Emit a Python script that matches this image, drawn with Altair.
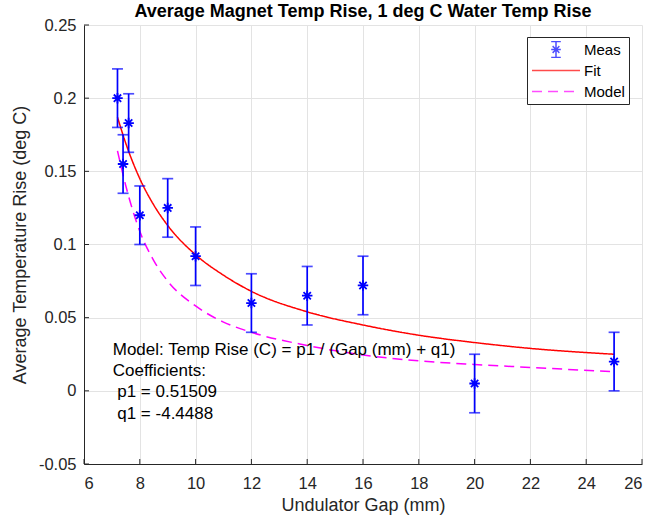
import altair as alt
import pandas as pd

# measured data
gap = [7.2, 7.4, 7.6, 8, 9, 10, 12, 14, 16, 20, 25]
rise = [0.200, 0.155, 0.183, 0.120, 0.125, 0.092, 0.060, 0.065, 0.072, 0.005, 0.020]
err = [0.02, 0.02, 0.02, 0.02, 0.02, 0.02, 0.02, 0.02, 0.02, 0.02, 0.02]

# curves
curve_gap = [7.2, 7.5, 8, 8.5, 9, 10, 11, 12, 14, 16, 18, 20, 22, 25]
fit_rise = [0.187, 0.169, 0.145, 0.127, 0.113, 0.093, 0.079, 0.068, 0.054, 0.045, 0.038, 0.033, 0.029, 0.025]
model_rise = [0.164, 0.140, 0.109, 0.089, 0.075, 0.058, 0.047, 0.040, 0.031, 0.0245, 0.0205, 0.018, 0.016, 0.013]

series = ["Meas", "Fit", "Model"]
colors = ["#0000ff", "#ff0000", "#ff00ff"]
x_ticks = [6, 8, 10, 12, 14, 16, 18, 20, 22, 24, 26]
y_ticks = [-0.05, 0, 0.05, 0.1, 0.15, 0.2, 0.25]

title_text = "Average Magnet Temp Rise, 1 deg C Water Temp Rise"
x_title = "Undulator Gap (mm)"
y_title = "Average Temperature Rise (deg C)"
note_head = ["Model: Temp Rise (C) = p1 / (Gap (mm) + q1)", "Coefficients:"]
note_coef = ["p1 = 0.51509", "q1 = -4.4488"]

FONT = "Liberation Sans"
AX = "#262626"
W, H = 558, 439

meas = pd.DataFrame({"gap": gap, "rise": rise, "err": err})
curves = pd.DataFrame({
    "gap": curve_gap + curve_gap,
    "rise": fit_rise + model_rise,
    "s": ["Fit"] * len(curve_gap) + ["Model"] * len(curve_gap),
})
legend_df = pd.DataFrame({"s": series})
xt_df = pd.DataFrame({"gap": x_ticks})
yt_df = pd.DataFrame({"rise": y_ticks})

star = "M-1,0L1,0M0,-1L0,1M-0.7,-0.7L0.7,0.7M-0.7,0.7L0.7,-0.7"
meas_icon = ("M0,-0.33L0,0.33M-0.2,-0.33L0.2,-0.33M-0.2,0.33L0.2,0.33"
             "M-0.2,0L0.2,0M-0.14,-0.14L0.14,0.14M-0.14,0.14L0.14,-0.14")
line_icon = "M-1,0L1,0"

xsc = alt.Scale(domain=[6, 26], nice=False, zero=False)
ysc = alt.Scale(domain=[-0.05, 0.25], nice=False, zero=False)

xaxis = alt.Axis(values=x_ticks, title=x_title, grid=True, gridColor="#e3e3e3",
                 domainColor=AX, ticks=False, labelColor=AX,
                 labelFont=FONT, labelFontSize=16.5, labelPadding=11,
                 titleFont=FONT, titleFontSize=18, titleFontWeight="normal",
                 titleColor=AX, titlePadding=5)
yaxis = alt.Axis(values=y_ticks, title=y_title, grid=True, gridColor="#e3e3e3",
                 domainColor=AX, ticks=False, labelColor=AX,
                 labelFont=FONT, labelFontSize=16.5, labelPadding=8,
                 labelExpr="'' + datum.value",
                 titleFont=FONT, titleFontSize=18, titleFontWeight="normal",
                 titleColor=AX, titlePadding=9)

X = alt.X("gap:Q", scale=xsc, axis=xaxis)
Y = alt.Y("rise:Q", scale=ysc, axis=yaxis)

color_enc = alt.Color("s:N", scale=alt.Scale(domain=series, range=colors),
                      legend=alt.Legend(title=None))
dash_enc = alt.StrokeDash("s:N", scale=alt.Scale(domain=series, range=[[1, 0], [1, 0], [10, 6]]),
                          legend=alt.Legend(title=None))
shape_enc = alt.Shape("s:N", scale=alt.Scale(domain=series, range=[meas_icon, line_icon, line_icon]),
                      legend=alt.Legend(title=None))

lines = alt.Chart(curves).mark_line(interpolate="monotone", strokeWidth=1.5).encode(
    x=X, y=Y, color=color_enc, strokeDash=dash_enc, detail="s:N")

base = alt.Chart(meas).transform_calculate(lo="datum.rise - datum.err", hi="datum.rise + datum.err")
bars = base.mark_rule(color="#0000ff", strokeWidth=1.7).encode(
    x="gap:Q", y="lo:Q", y2="hi:Q")
cap_lo = base.mark_tick(color="#0000ff", orient="horizontal", size=11, thickness=1.7).encode(
    x="gap:Q", y="lo:Q")
cap_hi = base.mark_tick(color="#0000ff", orient="horizontal", size=11, thickness=1.7).encode(
    x="gap:Q", y="hi:Q")
stars = base.mark_point(shape=star, size=110, filled=False, color="#0000ff", strokeWidth=1.8,
                        opacity=1).encode(x="gap:Q", y="rise:Q")

leg = alt.Chart(legend_df).transform_filter("false").mark_point(filled=False, strokeWidth=1.5).encode(
    x="gap:Q", y="rise:Q", color=color_enc, shape=shape_enc, strokeDash=dash_enc)

xticks = alt.Chart(xt_df).mark_rule(color=AX, strokeWidth=1).encode(
    x="gap:Q", y=alt.value(H), y2=alt.value(H - 5))
yticks = alt.Chart(yt_df).mark_rule(color=AX, strokeWidth=1).encode(
    y="rise:Q", x=alt.value(0), x2=alt.value(5))

note1 = alt.Chart().mark_text(align="left", baseline="alphabetic", font=FONT, fontSize=17,
                              color="#000000", lineHeight=21.3).encode(
    x=alt.datum(7.03), y=alt.datum(0.0245), text=alt.value(note_head))
note2 = alt.Chart().mark_text(align="left", baseline="alphabetic", font=FONT, fontSize=17,
                              color="#000000", lineHeight=21.7, dx=4.5).encode(
    x=alt.datum(7.03), y=alt.datum(-0.0045), text=alt.value(note_coef))

chart = alt.layer(lines, bars, cap_lo, cap_hi, stars, leg, xticks, yticks, note1, note2).properties(
    width=W, height=H,
    title=alt.Title(title_text, font=FONT, fontSize=18, fontWeight="bold", color="#000000",
                    anchor="middle", offset=6, dy=10),
    autosize=alt.AutoSizeParams(type="none"),
    padding={"left": 84, "top": 25, "right": 10, "bottom": 57},
).configure_view(stroke=None).configure_legend(
    orient="none", legendX=443, legendY=12, strokeColor=AX, fillColor="#ffffff", padding=4,
    symbolSize=2304, clipHeight=17, rowPadding=4, labelFont=FONT, labelFontSize=15,
    labelColor="#000000", labelOffset=3, symbolStrokeWidth=1.5, cornerRadius=0,
)

chart.save("out.html", embed_options={"renderer": "svg", "actions": False})
